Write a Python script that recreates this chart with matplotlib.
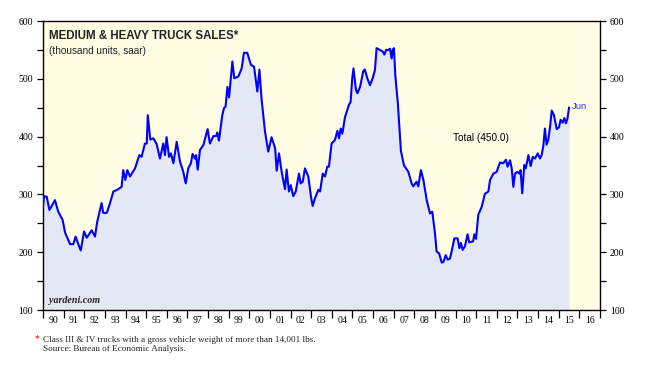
import matplotlib
matplotlib.use("Agg")
import matplotlib.pyplot as plt
from matplotlib.ticker import MultipleLocator, FixedLocator, NullFormatter

dates = [1990.00, 1990.05, 1990.18, 1990.31, 1990.58, 1990.74, 1990.95, 1991.07, 1991.31, 1991.47,
         1991.58, 1991.71, 1991.83, 1991.99, 1992.12, 1992.36, 1992.52, 1992.63, 1992.84, 1992.92,
         1993.09, 1993.25, 1993.41, 1993.60, 1993.81, 1993.89, 1993.99, 1994.09, 1994.22, 1994.46,
         1994.67, 1994.78, 1994.94, 1995.03, 1995.08, 1995.20, 1995.35, 1995.51, 1995.67, 1995.83,
         1995.91, 1995.99, 1996.11, 1996.20, 1996.32, 1996.48, 1996.64, 1996.80, 1996.92, 1997.04,
         1997.17, 1997.25, 1997.37, 1997.42, 1997.50, 1997.61, 1997.77, 1997.98, 1998.09, 1998.26,
         1998.39, 1998.45, 1998.53, 1998.69, 1998.77, 1998.85, 1998.94, 1999.02, 1999.18, 1999.27,
         1999.47, 1999.63, 1999.74, 1999.90, 2000.08, 2000.23, 2000.39, 2000.49, 2000.60, 2000.76,
         2000.92, 2001.08, 2001.25, 2001.33, 2001.44, 2001.57, 2001.73, 2001.81, 2001.92, 2002.01,
         2002.13, 2002.25, 2002.41, 2002.49, 2002.59, 2002.70, 2002.86, 2002.99, 2003.07, 2003.18,
         2003.35, 2003.43, 2003.56, 2003.67, 2003.78, 2003.86, 2003.99, 2004.15, 2004.27, 2004.35,
         2004.43, 2004.51, 2004.64, 2004.83, 2004.91, 2004.99, 2005.05, 2005.17, 2005.24, 2005.37,
         2005.53, 2005.60, 2005.72, 2005.85, 2005.98, 2006.09, 2006.17, 2006.33, 2006.47, 2006.55,
         2006.63, 2006.74, 2006.82, 2006.90, 2006.95, 2007.01, 2007.08, 2007.20, 2007.35, 2007.50,
         2007.60, 2007.71, 2007.87, 2007.95, 2008.11, 2008.19, 2008.32, 2008.44, 2008.60, 2008.76,
         2008.87, 2009.00, 2009.08, 2009.20, 2009.33, 2009.41, 2009.52, 2009.62, 2009.73, 2009.86,
         2009.94, 2010.10, 2010.18, 2010.26, 2010.34, 2010.45, 2010.58, 2010.66, 2010.77, 2010.85,
         2010.91, 2010.99, 2011.10, 2011.26, 2011.42, 2011.59, 2011.67, 2011.83, 2011.99, 2012.15,
         2012.31, 2012.44, 2012.52, 2012.64, 2012.72, 2012.80, 2012.88, 2012.99, 2013.09, 2013.15,
         2013.23, 2013.33, 2013.40, 2013.53, 2013.64, 2013.74, 2013.85, 2013.98, 2014.09, 2014.17,
         2014.25, 2014.33, 2014.41, 2014.49, 2014.58, 2014.66, 2014.77, 2014.90, 2015.01, 2015.09,
         2015.19, 2015.27, 2015.35, 2015.42, 2015.50]
sales = [279, 297, 296, 273, 290, 270, 256, 234, 214, 214,
         227, 214, 203, 236, 225, 238, 227, 253, 285, 268,
         268, 285, 305, 308, 313, 342, 325, 342, 331, 345,
         368, 365, 388, 388, 437, 395, 397, 387, 362, 388,
         368, 399, 365, 371, 354, 391, 357, 339, 319, 345,
         354, 370, 362, 368, 343, 377, 385, 413, 388, 401,
         401, 407, 393, 437, 449, 452, 486, 468, 530, 501,
         504, 518, 545, 545, 524, 521, 478, 516, 463, 409,
         374, 399, 380, 341, 371, 339, 309, 343, 305, 316,
         297, 305, 336, 319, 322, 345, 331, 296, 280, 293,
         308, 305, 336, 331, 348, 348, 388, 394, 410, 397,
         414, 405, 434, 455, 460, 501, 518, 481, 475, 486,
         514, 516, 501, 489, 501, 515, 553, 550, 547, 542,
         550, 550, 552, 535, 550, 553, 505, 458, 375, 350,
         345, 339, 319, 314, 322, 314, 342, 325, 290, 267,
         270, 233, 201, 198, 182, 183, 195, 187, 189, 210,
         224, 224, 207, 216, 204, 210, 231, 217, 218, 219,
         231, 223, 265, 278, 301, 305, 325, 336, 339, 355,
         354, 360, 348, 359, 345, 313, 336, 339, 336, 342,
         302, 351, 345, 368, 349, 365, 362, 371, 362, 368,
         383, 414, 386, 394, 417, 445, 437, 413, 416, 429,
         424, 432, 423, 431, 450]

year_labels = [f"{y % 100:02d}" for y in range(1990, 2017)]
y_ticks = [100, 200, 300, 400, 500, 600]

serif = "Liberation Serif"
sans = "Liberation Sans"

fig = plt.figure(figsize=(6.52, 3.66), dpi=100)
ax = fig.add_axes([43/652, 1 - 310/366, (600 - 43)/652, (310 - 21)/366])
ax.set_facecolor("#fffde3")

ax.fill_between(dates, sales, 100, color="#e4e7f4", lw=0, zorder=1)
ax.plot(dates, sales, color="#0000ff", lw=1.5, zorder=3)

ax.set_xlim(1990, 2017)
ax.set_ylim(100, 600)

ax.xaxis.set_major_locator(FixedLocator(list(range(1990, 2018))))
ax.xaxis.set_major_formatter(NullFormatter())
ax.xaxis.set_minor_locator(FixedLocator([y + 0.5 for y in range(1990, 2017)]))
ax.set_xticklabels(year_labels, minor=True)
ax.tick_params(axis="x", which="major", direction="out", length=6, width=0.9)
ax.tick_params(axis="x", which="minor", length=0, pad=4, labelsize=7)
for lbl in ax.get_xticklabels(minor=True):
    lbl.set_fontfamily(serif)

ax.set_yticks(y_ticks)
ax.yaxis.set_minor_locator(MultipleLocator(50))
ax.tick_params(axis="y", which="both", direction="out", length=4, width=0.9,
               left=True, right=True, labelleft=True, labelright=True, labelsize=7, pad=3)
for lbl in ax.get_yticklabels():
    lbl.set_fontfamily(serif)

for s in ax.spines.values():
    s.set_linewidth(1.0)
    s.set_color("black")

ax.text(0.011, 0.968, "MEDIUM & HEAVY TRUCK SALES*", transform=ax.transAxes,
        fontsize=8.3, fontweight="bold", family=sans, color="#222222", va="top", ha="left")
ax.text(0.011, 0.912, "(thousand units, saar)", transform=ax.transAxes,
        fontsize=7.2, family=sans, color="#222222", va="top", ha="left")
ax.text(2011.25, 398, "Total (450.0)", fontsize=7.2, family=sans, color="black",
        va="center", ha="center")
ax.text(2015.65, 452, "Jun", fontsize=6.8, family=sans, color="#3333ff",
        va="center", ha="left")
ax.text(0.011, 0.018, "yardeni.com", transform=ax.transAxes, fontsize=7.2,
        family=serif, style="italic", fontweight="bold", color="#222222",
        va="bottom", ha="left")

fig.text(35/652, 1 - 339/366, "*", color="#dd0000", fontsize=7, family=serif,
         va="center", ha="left")
fig.text(43/652, 1 - 340/366,
         "Class III & IV trucks with a gross vehicle weight of more than 14,001 lbs.",
         fontsize=6.6, family=serif, va="center", ha="left", color="#222222")
fig.text(43/652, 1 - 349/366, "Source: Bureau of Economic Analysis.",
         fontsize=6.6, family=serif, va="center", ha="left", color="#222222")

fig.savefig("out.png", dpi=100)
